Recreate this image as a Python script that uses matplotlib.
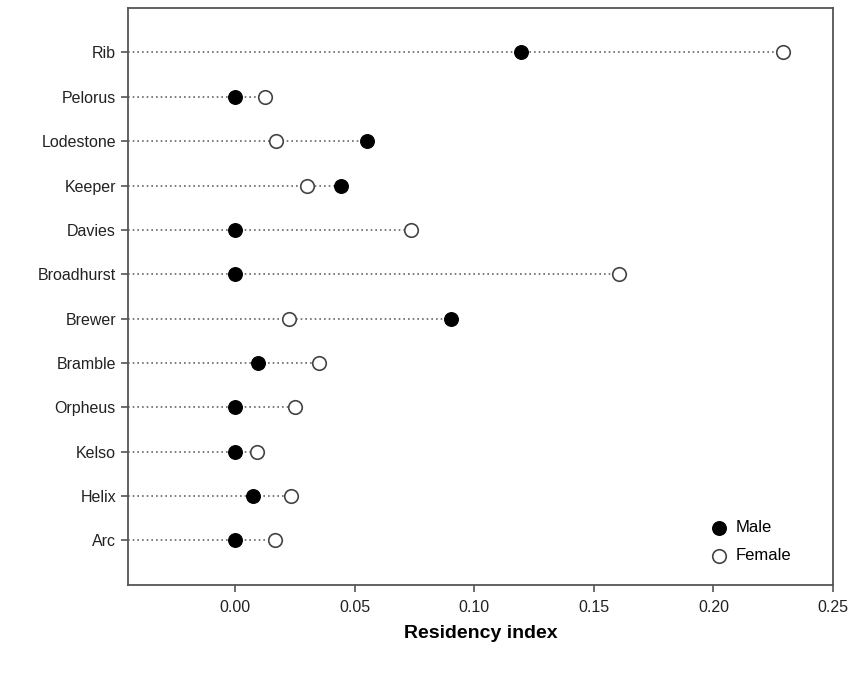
import matplotlib.pyplot as plt

plt.rcParams['font.family'] = ['Liberation Sans', 'DejaVu Sans']

sites = ['Arc', 'Helix', 'Kelso', 'Orpheus', 'Bramble', 'Brewer', 'Broadhurst',
         'Davies', 'Keeper', 'Lodestone', 'Pelorus', 'Rib']
male = [0.0, 0.0075, 0.0, 0.0, 0.0096, 0.0903, 0.0, 0.0, 0.0443, 0.0552, 0.0, 0.1196]
female = [0.0167, 0.0234, 0.0092, 0.0251, 0.0351, 0.0226, 0.1605, 0.0736, 0.0301, 0.0171, 0.0125, 0.2290]

xmin = -0.045

fig = plt.figure(figsize=(8.57, 6.73), dpi=100)
ax = fig.add_axes([0.149, 0.131, 0.823, 0.857])

pos = list(range(len(sites)))
# dotted guide from the left edge to the larger value
for y, m, f in zip(pos, male, female):
    ax.plot([xmin, max(m, f)], [y, y], linestyle=(0, (1, 1.8)), color='#666666',
            linewidth=1.2, zorder=1)

ax.scatter(male, pos, s=95, color='black', edgecolor='black', zorder=3, label='Male')
ax.scatter(female, pos, s=95, facecolor='white', edgecolor='#444444', linewidth=1.2,
           zorder=3, label='Female')

ax.set_xlim(xmin, 0.25)
ax.set_ylim(-1, 12)
ax.set_yticks(pos)
ax.set_yticklabels(sites, fontsize=11.5, color='#222222')
ax.set_xticks([0.0, 0.05, 0.10, 0.15, 0.20, 0.25])
ax.set_xticklabels(['0.00', '0.05', '0.10', '0.15', '0.20', '0.25'], fontsize=11.5,
                   color='#222222')
ax.tick_params(direction='out', length=5, color='#555555', width=1.2)
ax.tick_params(axis='x', pad=6)
for s in ax.spines.values():
    s.set_color('#555555')
    s.set_linewidth(1.3)

ax.set_xlabel('Residency index', fontsize=14, fontweight='bold', labelpad=7)

ax.legend(loc='lower left', frameon=False, fontsize=12, handletextpad=0.5,
          handlelength=1.0, bbox_to_anchor=(0.805, 0.012), labelspacing=0.75)

fig.savefig('out.png', dpi=100)
